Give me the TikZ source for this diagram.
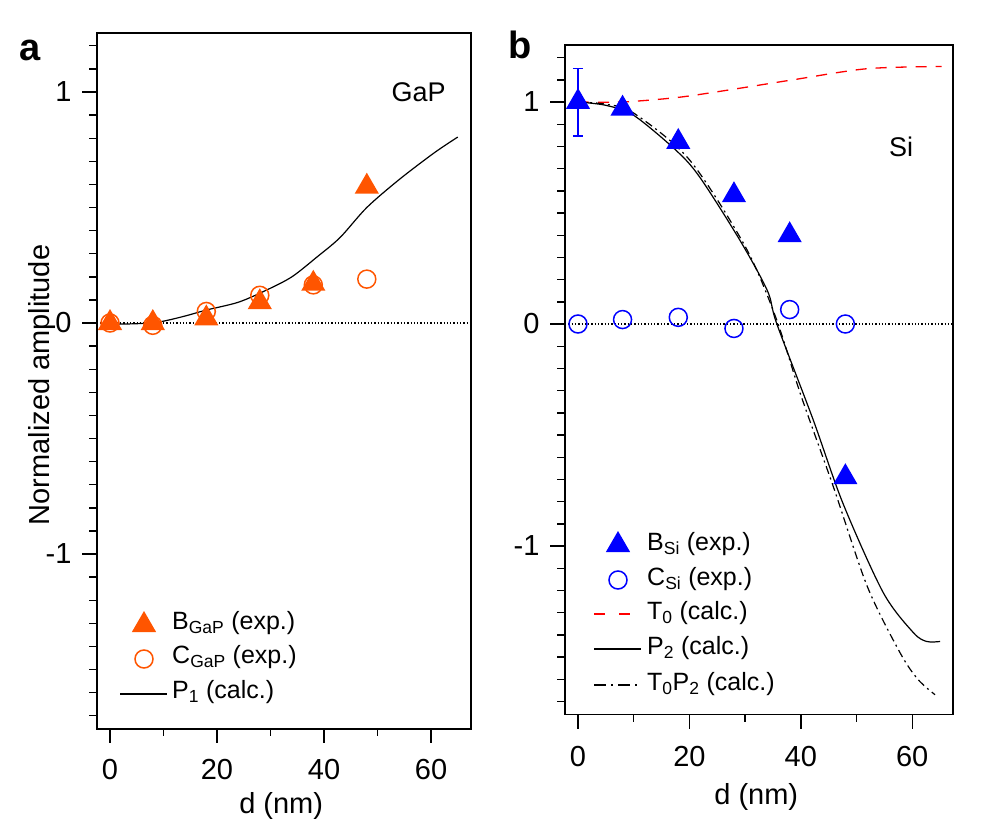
\documentclass[tikz,border=0pt]{standalone}
\usepackage{fontspec}
\setmainfont{Liberation Sans}
\usetikzlibrary{shapes.geometric}
\definecolor{orng}{HTML}{FF5500}
\tikzset{
  tri/.style={regular polygon, regular polygon sides=3, fill=#1, minimum size=28pt, inner sep=0pt},
  circ/.style={circle, draw=#1, line width=1.5pt, minimum size=18pt, inner sep=0pt},
  lbl/.style={font=\fontsize{29}{29}\selectfont},
  leg/.style={font=\fontsize{25}{25}\selectfont, anchor=west, inner sep=0pt},
  frame/.style={line width=1.4pt},
}
\begin{document}
\begin{tikzpicture}[x=1pt,y=-1pt]
\useasboundingbox (0,0) rectangle (1006,840);
\node[font=\fontsize{38}{38}\selectfont\bfseries] (la) at (30,50) {a};
\node[font=\fontsize{38}{38}\selectfont\bfseries] (lb) at (520,45) {b};
\node[lbl, rotate=90] (ylab) at (42,385) {Normalized amplitude};
% ---------------- panel a
\begin{scope}[shift={(110,323)}, x=5.35pt, y=231pt]
  \draw[frame] (-2.43,1.256) rectangle (67.5,-1.758);
  \foreach \v in {-17,...,12} \draw[frame] (-2.43,\v/10) -- ++(-8pt,0pt);
  \foreach \v in {-1,0,1} \draw[frame] (-2.43,\v) -- ++(-15pt,0pt);
  \foreach \v in {0,10,...,60} \draw[frame] (\v,-1.758) -- ++(0pt,-7pt);
  \foreach \v in {0,20,40,60} {\draw[frame] (\v,-1.758) -- ++(0pt,-14pt);
    \node[lbl] at (\v,-1.758) [yshift=-40pt] {\v};}
  \node[lbl, anchor=east] at (-2.43,1) [xshift=-22pt] {1};
  \node[lbl, anchor=east] at (-2.43,0) [xshift=-22pt] {0};
  \node[lbl, anchor=east] at (-2.43,-1) [xshift=-22pt] {-1};
  \node[lbl] (xa) at (32,-1.758) [yshift=-77pt] {d (nm)};
  \draw[line width=1.3pt, dotted] (-2.43,0) -- (67.5,0);
  \draw[line width=1.2pt] plot[smooth] coordinates {(0,-0.005) (5,-0.003) (9.3,0.005) (14,0.03) (18,0.056) (24,0.09) (29.3,0.143) (34,0.2) (38.7,0.286) (43,0.37) (48,0.5) (54,0.62) (60.5,0.735) (65,0.805)};
  \foreach \d/\b/\c in {0/0/0, 8/0/-0.01, 18/0.02/0.05, 28/0.09/0.12, 38/0.17/0.165, 48/0.59/0.19} {
    \node[circ=orng] at (\d,\c) {};
    \node[tri=orng] at (\d,\b) {};
  }
  \node[font=\fontsize{27}{27}\selectfont] (gap) at (57.7,1.0) {GaP};
\end{scope}
% legend a
\node[tri=orng] (la1) at (144,625) {};
\node[leg] (ta1) at (172,623) {B\textsubscript{GaP} (exp.)};
\node[circ=orng] (la2) at (144,659) {};
\node[leg] (ta2) at (172,657) {C\textsubscript{GaP} (exp.)};
\coordinate (l3s) at (120,694); \coordinate (l3e) at (167,694);
\draw[line width=1.2pt] (l3s) -- (l3e);
\node[leg] (ta3) at (172,692) {P\textsubscript{1} (calc.)};
% ---------------- panel b
\begin{scope}[shift={(578,324)}, x=5.57pt, y=222pt]
  \draw[frame] (-2.33,1.257) rectangle (67.3,-1.76);
  \foreach \v in {-17,...,12} \draw[frame] (-2.33,\v/10) -- ++(-8pt,0pt);
  \foreach \v in {-1,0,1} \draw[frame] (-2.33,\v) -- ++(-15pt,0pt);
  \foreach \v in {0,10,...,60} \draw[frame] (\v,-1.76) -- ++(0pt,-7pt);
  \foreach \v in {0,20,40,60} {\draw[frame] (\v,-1.76) -- ++(0pt,-14pt);
    \node[lbl] at (\v,-1.76) [yshift=-42pt] {\v};}
  \node[lbl, anchor=east] at (-2.33,1) [xshift=-22pt] {1};
  \node[lbl, anchor=east] at (-2.33,0) [xshift=-22pt] {0};
  \node[lbl, anchor=east] at (-2.33,-1) [xshift=-22pt] {-1};
  \node[lbl] (xb) at (32,-1.76) [yshift=-82pt] {d (nm)};
  \draw[line width=1.3pt, dotted] (-2.33,0) -- (67.3,0);
  \draw[red, line width=1.3pt, dash pattern=on 11pt off 9pt] plot[smooth] coordinates {(0,1) (8,1.0) (17.7,1.02) (26,1.05) (38.6,1.10) (51.9,1.15) (65.3,1.16)};
  \draw[line width=1.2pt] plot[smooth] coordinates {(0,1) (5,0.985) (10,0.94) (17.7,0.78) (21.9,0.66) (29,0.38) (34,0.15) (35.7,0) (42.2,-0.43) (47.6,-0.81) (54.8,-1.21) (60.2,-1.39) (62.6,-1.43) (65,-1.43)};
  \draw[line width=1.2pt, dash pattern=on 8pt off 4pt on 2pt off 4pt] plot[smooth] coordinates {(0,1) (5,0.99) (10,0.95) (20,0.74) (30,0.35) (35.5,0.03) (40,-0.32) (45.8,-0.73) (51.9,-1.18) (57.8,-1.48) (61,-1.6) (64.1,-1.67)};
  \draw[blue, line width=1.2pt] (0,1.15) -- (0,0.847);
  \draw[blue, line width=1.2pt] (-0.9,1.15) -- (0.9,1.15) (-0.9,0.847) -- (0.9,0.847);
  \foreach \d/\b/\c in {0/1.0/0, 8/0.97/0.02, 18/0.82/0.03, 28/0.58/-0.02, 38/0.4/0.065, 48/-0.69/0} {
    \node[circ=blue] at (\d,\c) {};
    \node[tri=blue] at (\d,\b) {};
  }
  \node[font=\fontsize{27}{27}\selectfont] (si) at (58,0.8) {Si};
\end{scope}
% legend b
\node[tri=blue] (lb1) at (618,545) {};
\node[leg] (tb1) at (647,544) {B\textsubscript{Si} (exp.)};
\node[circ=blue] (lb2) at (618,580) {};
\node[leg] (tb2) at (647,579) {C\textsubscript{Si} (exp.)};
\coordinate (b3s) at (594,614); \coordinate (b3e) at (630,614);
\draw[red, line width=1.3pt, dash pattern=on 11pt off 14pt] (b3s) -- (b3e);
\node[leg] (tb3) at (647,613) {T\textsubscript{0} (calc.)};
\coordinate (b4s) at (594,649); \coordinate (b4e) at (641,649);
\draw[line width=1.2pt] (b4s) -- (b4e);
\node[leg] (tb4) at (647,648) {P\textsubscript{2} (calc.)};
\coordinate (b5s) at (594,685); \coordinate (b5e) at (638,685);
\draw[line width=1.2pt, dash pattern=on 12pt off 5pt on 2pt off 5pt] (b5s) -- (b5e);
\node[leg] (tb5) at (647,684) {T\textsubscript{0}P\textsubscript{2} (calc.)};
\end{tikzpicture}
\end{document}
